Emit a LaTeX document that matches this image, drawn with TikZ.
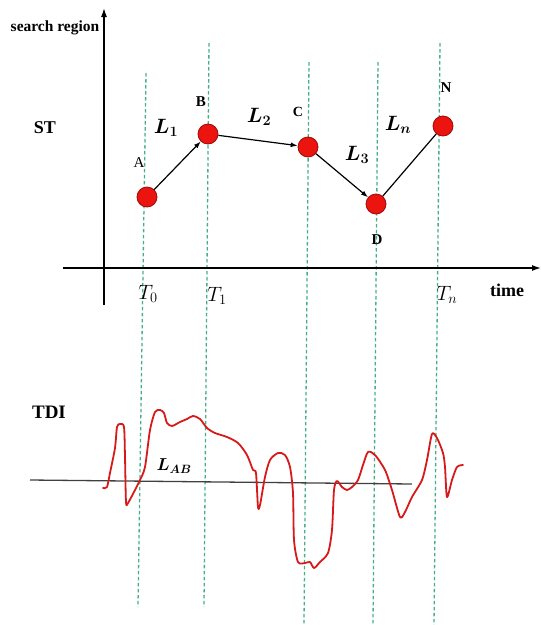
\documentclass[tikz,border=0pt]{standalone}
\usepackage{fontspec}
\setmainfont{Liberation Serif}
\usetikzlibrary{arrows.meta}
\definecolor{dashgreen}{RGB}{70,175,135}
\definecolor{dotred}{RGB}{235,20,15}
\definecolor{dotedge}{RGB}{160,10,10}
\definecolor{curvered}{RGB}{215,25,25}
\tikzset{
  guide/.style={draw=dashgreen, line width=1.3pt, dash pattern=on 3.5pt off 2.5pt},
  axis/.style={draw=black, line width=1.4pt, -{Latex[length=9pt,width=6pt]}},
  dot/.style={circle, fill=dotred, draw=dotedge, line width=0.8pt, minimum size=20pt, inner sep=0pt},
  link/.style={draw=black, line width=1.2pt, -{Latex[length=7pt,width=5pt]}},
  plainlink/.style={draw=black, line width=1.2pt},
  ptlabel/.style={font=\fontsize{15}{17}\selectfont\bfseries, inner sep=0pt},
  seglabel/.style={font=\fontsize{20}{22}\selectfont\boldmath, inner sep=0pt},
  timelabel/.style={font=\fontsize{21}{23}\selectfont, inner sep=0pt},
  title/.style={font=\fontsize{18}{20}\selectfont\bfseries, inner sep=0pt}
}
\begin{document}
\begin{tikzpicture}[x=1pt,y=-1pt]
\useasboundingbox (0,0) rectangle (541,625);
% guide lines
\coordinate (g0t) at (146,73);  \coordinate (g0b) at (138,607);
\coordinate (g1t) at (209,43);  \coordinate (g1b) at (204,607);
\coordinate (g2t) at (309,62);  \coordinate (g2b) at (304,625);
\coordinate (g3t) at (378,62);  \coordinate (g3b) at (373,625);
\coordinate (g4t) at (440,43);  \coordinate (g4b) at (434,625);
\draw[guide] (g0t) -- (g0b);
\draw[guide] (g1t) -- (g1b);
\draw[guide] (g2t) -- (g2b);
\draw[guide] (g3t) -- (g3b);
\draw[guide] (g4t) -- (g4b);
% axes
\coordinate (yb) at (104,305); \coordinate (yt) at (104,8);
\coordinate (xl) at (63,268);   \coordinate (xr) at (541,268);
\draw[axis] (yb) -- (yt);
\draw[axis] (xl) -- (xr);
\node[title, font=\fontsize{15.5}{17}\selectfont\bfseries] (sr) at (55,28) {search region};
\node[title] (st) at (45,128) {ST};
\node[title] (time) at (507,290) {time};
\node[timelabel] (T0) at (148,294) {$T_0$};
\node[timelabel] (T1) at (217,296) {$T_1$};
\node[timelabel] (Tn) at (447,295) {$T_n$};
% points
\node[dot] (A) at (147,197) {};
\node[dot] (B) at (208,134) {};
\node[dot] (C) at (308,147) {};
\node[dot] (D) at (376,204) {};
\node[dot] (N) at (443,126) {};
\node[ptlabel, font=\fontsize{15}{17}\selectfont] (la) at (139,163) {A};
\node[ptlabel] (lb) at (201,102) {B};
\node[ptlabel, font=\fontsize{14}{16}\selectfont\bfseries] (lc) at (298,112) {C};
\node[ptlabel] (ld) at (377,240) {D};
\node[ptlabel] (ln) at (446,88) {N};
\draw[link] (A) -- (B);
\draw[link] (B) -- (C);
\draw[link] (C) -- (D);
\draw[plainlink] (D) -- (N);
\node[seglabel] (L1) at (166,128) {$L_1$};
\node[seglabel] (L2) at (259,117) {$L_2$};
\node[seglabel] (L3) at (357,155) {$L_3$};
\node[seglabel] (Ln) at (398,125) {$L_n$};
% TDI
\node[title, font=\fontsize{19}{21}\selectfont\bfseries] (tdi) at (49,412) {TDI};
\coordinate (bl) at (30,480); \coordinate (br) at (412,484);
\draw[draw=black!75, line width=1.3pt] (bl) -- (br);
\node[seglabel, font=\fontsize{18}{20}\selectfont\boldmath] (lab) at (174,466) {$L_{AB}$};
\draw[curvered, line width=1.8pt, line join=round, line cap=round]
  plot[smooth, tension=0.45] coordinates {
  (103,488) (107,487) (110,473) (115,448) (117,427) (120,424) (124,427)
  (125,457) (126,502) (128,503) (135,490) (140,480) (145,467) (150,430)
  (155,412) (160,410) (164,413) (167,423) (172,426) (180,422) (187,419)
  (193,416) (200,419) (207,428) (215,433) (227,437) (238,443) (247,455)
  (253,470) (256,473) (258,507) (260,505) (265,477) (270,460) (278,453)
  (285,455) (290,467) (293,493) (294,540) (298,562) (305,563) (310,562)
  (314,568) (320,562) (328,553) (332,530) (334,490) (337,481) (342,487)
  (347,490) (352,487) (358,480) (363,465) (368,452) (375,455) (385,470)
  (392,490) (400,517) (405,512) (412,497) (422,480) (427,460) (432,434)
  (437,438) (443,453) (445,467) (447,497) (452,480) (457,467) (463,465)};
\end{tikzpicture}
\end{document}
